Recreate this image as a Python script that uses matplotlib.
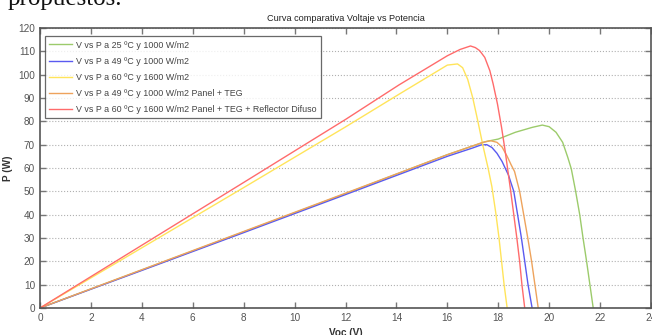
import matplotlib
matplotlib.use('Agg')
import matplotlib.pyplot as plt

# V vs P curves
v_25 = [0, 4, 8, 12, 16, 17.5, 18.0, 18.67, 19.33, 19.73, 20.0, 20.27, 20.53, 20.73, 20.87, 21.04, 21.2, 21.33, 21.47, 21.6, 21.73]
p_25 = [0, 16.3, 32.6, 49.0, 65.7, 71.3, 72.4, 75.3, 77.4, 78.4, 77.7, 75.3, 71.0, 64.6, 59.6, 50, 40, 30, 20, 10, 0]

v_49 = [0, 4, 8, 12, 16, 17.0, 17.33, 17.55, 17.75, 17.95, 18.15, 18.4, 18.61, 18.76, 18.91, 19.04, 19.17, 19.33]
p_49 = [0, 16.1, 32.3, 48.6, 65.0, 68.6, 69.9, 70.0, 68.8, 66.3, 62.8, 57.0, 50, 40, 30, 20, 10, 0]

v_60 = [0, 4, 8, 12, 14.1, 16, 16.4, 16.6, 16.8, 17.0, 17.2, 17.4, 17.6, 17.75, 17.9, 18.03, 18.13, 18.23, 18.35]
p_60 = [0, 25.8, 51.6, 77.6, 91.6, 104.1, 104.6, 103.0, 98.0, 90.0, 80.0, 69.5, 60.0, 52.0, 41.0, 30, 20, 10, 0]

v_49_teg = [0, 4, 8, 12, 16, 17.4, 17.7, 17.95, 18.15, 18.35, 18.5, 18.64, 18.84, 19.0, 19.16, 19.31, 19.44, 19.57]
p_49_teg = [0, 16.4, 32.8, 49.2, 65.7, 71.0, 71.7, 71.0, 69.0, 65.0, 61.5, 58.5, 50, 40, 30, 20, 10, 0]

v_60_ref = [0, 4, 8, 12, 14.1, 16, 16.5, 16.91, 17.1, 17.27, 17.47, 17.67, 17.8, 17.97, 18.13, 18.27, 18.37, 18.49, 18.61, 18.73, 18.84, 18.93, 19.04]
p_60_ref = [0, 26.9, 53.8, 80.8, 95.6, 108.1, 110.8, 112.3, 111.6, 110.3, 107.4, 101.7, 96.0, 87.4, 77.4, 67.4, 59.5, 50, 40, 30, 20, 10, 0]

labels = [
    'V vs P a 25 ºC y 1000 W/m2',
    'V vs P a 49 ºC y 1000 W/m2',
    'V vs P a 60 ºC y 1600 W/m2',
    'V vs P a 49 ºC y 1000 W/m2 Panel + TEG',
    'V vs P a 60 ºC y 1600 W/m2 Panel + TEG + Reflector Difuso',
]
colors = ['#9ccb6b', '#5a5af0', '#ffe45a', '#eea35c', '#ff6b6b']

x_ticks = list(range(0, 25, 2))
y_ticks = list(range(0, 121, 10))

plt.rcParams['font.family'] = ['Liberation Sans', 'DejaVu Sans']

fig = plt.figure(figsize=(6.52, 3.35), dpi=100)
ax = fig.add_axes([40 / 652, 1 - 308 / 335, 611 / 652, 280 / 335])

curves = [(v_25, p_25), (v_49, p_49), (v_60, p_60), (v_49_teg, p_49_teg), (v_60_ref, p_60_ref)]
for (v, p), c, lab in zip(curves, colors, labels):
    ax.plot(v, p, color=c, linewidth=1.0, label=lab)

ax.set_xlim(0, 24)
ax.set_ylim(0, 120)
ax.set_xticks(x_ticks)
ax.set_yticks(y_ticks)
ax.grid(axis='y', linestyle=':', color='#b0b0b0', linewidth=0.8)
ax.tick_params(direction='in', length=4, width=1, colors='#777777', labelcolor='#555555',
               labelsize=7.2, top=True, right=True)
for s in ax.spines.values():
    s.set_color('#555555')
    s.set_linewidth(1.2)

ax.set_title('Curva comparativa Voltaje vs Potencia', fontsize=6.6, pad=5, color='#222222')
ax.set_xlabel('Voc (V)', fontsize=7.2, fontweight='bold', labelpad=4, color='#333333')
ax.set_ylabel('P (W)', fontsize=7.2, fontweight='bold', color='#333333')
ax.yaxis.set_label_coords(-27 / 611, 0.5)

leg = ax.legend(loc='upper left', bbox_to_anchor=(0.008, 0.971), fontsize=6.4, frameon=True,
                fancybox=False, handlelength=2.6, handletextpad=0.35, borderpad=0.5,
                labelspacing=0.8, borderaxespad=0)
leg.get_frame().set_edgecolor('#444444')
leg.get_frame().set_linewidth(0.9)
for t in leg.get_texts():
    t.set_color('#444444')

fig.text(8 / 652, 1 - 5 / 335, 'propuestos.', fontsize=18, family='Liberation Serif',
         va='baseline', ha='left', color='#111111')

fig.savefig('out.png', dpi=100, facecolor='white')
